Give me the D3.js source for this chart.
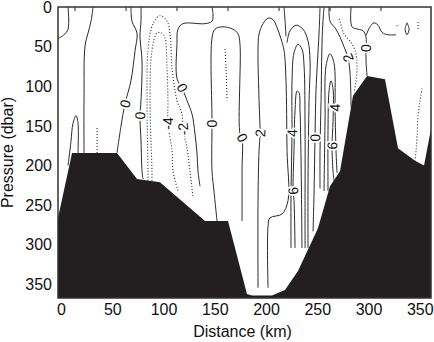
<!DOCTYPE html>
<html>
<head>
<meta charset="utf-8">
<script src="https://cdn.jsdelivr.net/npm/d3@7"></script>
<style>
  body { margin: 0; background: #fff; }
  svg { display: block; }
  text { font-family: "Liberation Sans", Arial, Helvetica, sans-serif; fill: #111; }
</style>
</head>
<body>
<svg id="chart" width="434" height="342"></svg>
<script>
// Axis ticks
const distanceTicks = [0, 50, 100, 150, 200, 250, 300, 350];
const pressureTicks = [0, 50, 100, 150, 200, 250, 300, 350];

// CTD station positions along the section (km)
const stationDistance = [13.6, 63.4, 113.1, 162.9, 212.7, 262.5, 312.2];

// Bottom topography along the section
const bottomDistance = [-3, 10.7, 54.6, 74.1, 96.5, 140.5, 162.9, 181.4, 186.3, 205.8, 218.5, 231.2, 250.7, 262.4, 272.2, 284.9, 298.6, 316.1, 328.8, 345.4, 354.2, 361];
const bottomPressure = [266, 184, 184, 217, 221, 270, 270, 362, 364, 364, 357, 333, 279, 226, 207, 112, 87, 91, 178, 194, 200, 154];

// Contour lines, each a list of [distance (km), pressure (dbar)]
const westCorner0 = [[6.8, 0], [6.8, 28], [2.9, 35], [-3, 40]];
const westShelf0 = [[31.2, 0], [29.2, 18], [26.3, 33], [23.4, 49], [22.4, 118], [22.4, 184]];
const shelfBump2 = [[6.8, 200], [9.7, 169], [11.6, 147], [14.6, 137], [16.5, 146], [16.5, 184]];
const shelfNeg = [[35.1, 184], [35.1, 152]];
const slopeA0 = [[78, 0], [78, 18], [77, 37], [79, 68], [78, 118], [77, 137], [78, 169], [79, 207], [80, 217]];
const slopeB0 = [[68.2, 0], [69.2, 18], [74.1, 33], [72.2, 55], [68.2, 93], [62.4, 122], [58.5, 150], [54.6, 184]];
const coreNeg2 = [[84.8, 219], [84.8, 207], [83.9, 118], [84.8, 55], [89.7, 21], [96.5, 11], [103.4, 18], [106.3, 34], [108.3, 77], [113.1, 118], [118, 135], [119, 154], [122.9, 178], [125.8, 207], [128.7, 240]];
const coreNeg4 = [[88.7, 219], [88.7, 207], [86.8, 118], [88.7, 55], [93.6, 33], [98.5, 33], [101.4, 39], [103.4, 77], [104.3, 118], [104.3, 147], [108.3, 181], [109.2, 207], [114.1, 232]];
const midC0 = [[147.3, 0], [148.3, 10], [147.3, 18], [140.5, 21], [119, 21], [114.1, 28], [113.1, 47], [113.1, 90], [118, 102], [122.9, 118], [127.8, 135], [130.7, 160], [132.7, 185], [133.6, 207], [135.6, 226]];
const dome0 = [[152.2, 270], [149.2, 232], [147.3, 207], [147.3, 147], [147.3, 39], [150.2, 28], [157.1, 25], [167.8, 28], [172.7, 34], [174.6, 47], [174.6, 160], [176.6, 165], [176.6, 207], [176.6, 270]];
const domeNeg = [[160, 53], [161, 77], [162, 118]];
const arch2 = [[192.2, 354], [192.2, 244], [193.2, 181], [194.2, 159], [193.2, 118], [192.2, 55], [193.2, 34], [197.1, 21], [202, 14], [206.9, 16], [210.8, 26], [214.6, 40], [217.6, 55], [219.5, 93], [220.5, 181], [221.5, 244], [215.6, 261], [203.9, 266], [202, 276], [202, 354]];
const archTop2 = [[217.6, 0], [218.6, 18], [219.5, 37]];
const jetA2 = [[241, 304], [241, 219], [242, 118], [243, 68], [241, 43], [236.1, 28], [229.3, 23], [223.4, 30], [220.5, 45]];
const jetA4 = [[224.4, 304], [224.4, 232], [225.4, 159], [225.4, 93], [227.3, 58], [231.2, 47], [235.1, 53], [237.1, 74], [238.1, 156], [238.1, 244], [238.1, 304]];
const jetA6 = [[228.3, 304], [227.3, 244], [226.4, 232], [227.3, 181], [228.3, 131], [230.3, 106], [232.2, 108], [233.2, 131], [234.2, 194], [235.1, 304]];
const trough0 = [[252.7, 0], [251.7, 34], [248.8, 105], [247.8, 165], [246.9, 232], [245.9, 283]];
const jetB2west = [[252.7, 229], [252.7, 181], [253.7, 118], [254.7, 43], [255.6, 18], [256.6, 0]];
const jetB4 = [[256.6, 232], [257.6, 144], [258.6, 74], [262.5, 59], [266.4, 71], [267.4, 118], [267.4, 127], [268.3, 181], [269.3, 209]];
const jetB6 = [[260.5, 232], [260.5, 156], [261.5, 106], [263.4, 93], [265.4, 103], [265.4, 144], [264.4, 175], [265.4, 207], [266.4, 219]];
const jetB2east = [[261.5, 0], [262.5, 18], [268.3, 28], [272.2, 38], [276.1, 50], [280, 64], [282, 84], [283, 126]];
const ridgeNeg = [[271.3, 15], [273.2, 23], [276.1, 34], [282, 43], [286.9, 55], [288.8, 74], [287.8, 93], [285.9, 108]];
const ridge0 = [[283, 0], [283.9, 25], [289.8, 28], [294.7, 30], [297.6, 38], [297.6, 52], [297.6, 68], [298.6, 87]];
const ridgeCap0 = [[297.6, 36], [301.5, 25], [305.4, 20], [309.3, 23], [313.2, 32], [319.1, 35], [326.9, 35]];
const eddy2 = [[337.6, 20], [339.6, 28], [337.6, 35], [335.7, 28], [337.6, 20]];
const eddyNegA = [[327.9, 23], [327.9, 26]];
const eddyNegB = [[348.4, 19], [348.4, 28]];
const eastNeg = [[352.3, 103], [350.3, 118], [348.4, 137], [347.4, 163], [346.4, 181], [345.4, 194]];

const contourLines = [
  { level: 0, pts: westCorner0 }, { level: 0, pts: westShelf0 }, { level: 2, pts: shelfBump2 },
  { level: -2, pts: shelfNeg }, { level: 0, pts: slopeA0 }, { level: 0, pts: slopeB0 },
  { level: -2, pts: coreNeg2 }, { level: -4, pts: coreNeg4 }, { level: 0, pts: midC0 },
  { level: 0, pts: dome0 }, { level: -2, pts: domeNeg }, { level: 2, pts: arch2 },
  { level: 2, pts: archTop2 }, { level: 2, pts: jetA2 }, { level: 4, pts: jetA4 },
  { level: 6, pts: jetA6 }, { level: 0, pts: trough0 }, { level: 2, pts: jetB2west },
  { level: 4, pts: jetB4 }, { level: 6, pts: jetB6 }, { level: 2, pts: jetB2east },
  { level: -2, pts: ridgeNeg }, { level: 0, pts: ridge0 }, { level: 0, pts: ridgeCap0 },
  { level: 2, pts: eddy2 }, { level: -2, pts: eddyNegA }, { level: -2, pts: eddyNegB },
  { level: -2, pts: eastNeg }
];

// Contour labels
const labelText = ["0", "0", "-4", "-2", "0", "0", "0", "2", "4", "6", "0", "4", "6", "2", "0"];
const labelDistance = [62.4, 77, 104.3, 119, 118, 147.3, 176.6, 194.2, 225.4, 226.4, 247.8, 267.4, 264.4, 280, 297.6];
const labelPressure = [122, 137, 147, 154, 102, 147, 165, 159, 159, 232, 165, 127, 175, 64, 52];

const svg = d3.select("#chart");
const plot = { left: 58, right: 431, top: 7, bottom: 298 };

const x = d3.scaleLinear().domain([-3, 361]).range([plot.left, plot.right]);
const y = d3.scaleLinear().domain([0, 367]).range([plot.top, plot.bottom]);

svg.append("defs").append("clipPath").attr("id", "plotClip")
  .append("rect")
  .attr("x", plot.left).attr("y", plot.top)
  .attr("width", plot.right - plot.left).attr("height", plot.bottom - plot.top);

const g = svg.append("g").attr("clip-path", "url(#plotClip)");

// Contours
const line = d3.line()
  .x(d => x(d[0])).y(d => y(d[1]))
  .curve(d3.curveCatmullRom.alpha(0.5));

g.selectAll("path.contour")
  .data(contourLines)
  .join("path")
  .attr("class", "contour")
  .attr("d", d => line(d.pts))
  .attr("fill", "none")
  .attr("stroke", "#2a2a2a")
  .attr("stroke-width", d => d.level < 0 ? 1.1 : 1)
  .attr("stroke-dasharray", d => d.level < 0 ? "1,2" : null);

// Contour labels, rotated along the nearest contour segment
function localAngle(px, py) {
  let best = Infinity, ang = 90;
  contourLines.forEach(c => {
    for (let i = 0; i < c.pts.length - 1; i++) {
      const ax = x(c.pts[i][0]), ay = y(c.pts[i][1]);
      const bx = x(c.pts[i + 1][0]), by = y(c.pts[i + 1][1]);
      const dx = bx - ax, dy = by - ay;
      const len2 = dx * dx + dy * dy || 1;
      let t = ((px - ax) * dx + (py - ay) * dy) / len2;
      t = Math.max(0, Math.min(1, t));
      const qx = ax + t * dx - px, qy = ay + t * dy - py;
      const d2 = qx * qx + qy * qy;
      if (d2 < best) { best = d2; ang = Math.atan2(dy, dx) * 180 / Math.PI; }
    }
  });
  while (ang >= 60) ang -= 180;
  while (ang < -120) ang += 180;
  return ang;
}

const labels = labelText.map((t, i) => {
  const px = x(labelDistance[i]), py = y(labelPressure[i]);
  return { t, px, py, a: localAngle(px, py) };
});

g.selectAll("text.clabel")
  .data(labels)
  .join("text")
  .attr("class", "clabel")
  .attr("transform", d => `translate(${d.px},${d.py}) rotate(${d.a})`)
  .attr("text-anchor", "middle")
  .attr("dy", "0.36em")
  .attr("font-size", 14)
  .attr("stroke", "#fff")
  .attr("stroke-width", 3.5)
  .attr("paint-order", "stroke")
  .text(d => d.t);

// Bottom topography
const bottom = d3.zip(bottomDistance, bottomPressure);
const area = d3.area()
  .x(d => x(d[0]))
  .y0(plot.bottom + 2)
  .y1(d => y(d[1]));
g.append("path")
  .attr("d", area(bottom))
  .attr("fill", "#231f20");

// Station markers along the top edge
svg.selectAll("line.station")
  .data(stationDistance)
  .join("line")
  .attr("class", "station")
  .attr("x1", d => x(d)).attr("x2", d => x(d))
  .attr("y1", plot.top).attr("y2", plot.top + 4)
  .attr("stroke", "#222").attr("stroke-width", 1);

// Frame
svg.append("rect")
  .attr("x", plot.left).attr("y", plot.top)
  .attr("width", plot.right - plot.left).attr("height", plot.bottom - plot.top)
  .attr("fill", "none").attr("stroke", "#333").attr("stroke-width", 1.5);

// Axes
const xAxis = svg.append("g")
  .attr("transform", `translate(0,${plot.bottom})`)
  .call(d3.axisBottom(x).tickValues(distanceTicks).tickSize(0).tickPadding(6).tickFormat(d3.format("d")));
const yAxis = svg.append("g")
  .attr("transform", `translate(${plot.left},0)`)
  .call(d3.axisLeft(y).tickValues(pressureTicks).tickSize(0).tickPadding(6).tickFormat(d3.format("d")));
[xAxis, yAxis].forEach(ax => {
  ax.select(".domain").remove();
  ax.selectAll("text")
    .attr("font-size", 16)
    .attr("font-family", '"Liberation Sans", Arial, Helvetica, sans-serif')
    .attr("fill", "#111");
});

svg.append("text")
  .attr("x", (plot.left + plot.right) / 2 - 2)
  .attr("y", 337)
  .attr("text-anchor", "middle")
  .attr("font-size", 16)
  .text("Distance (km)");

svg.append("text")
  .attr("transform", `translate(13,${(plot.top + plot.bottom) / 2}) rotate(-90)`)
  .attr("text-anchor", "middle")
  .attr("font-size", 16)
  .text("Pressure (dbar)");
</script>
</body>
</html>
